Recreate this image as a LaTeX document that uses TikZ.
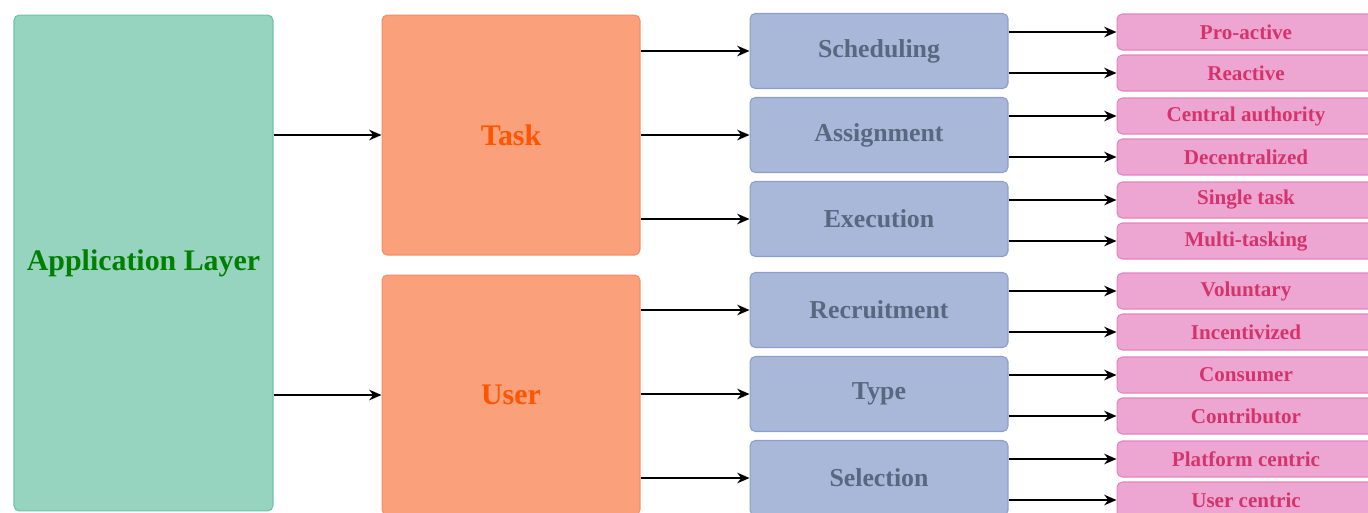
\documentclass[tikz,border=0pt]{standalone}
\usepackage{fontspec}
\setmainfont{Liberation Serif}
\usetikzlibrary{arrows.meta}

\definecolor{appfill}{RGB}{150,212,192}
\definecolor{appdraw}{RGB}{108,196,164}
\definecolor{apptext}{RGB}{0,128,0}
\definecolor{catfill}{RGB}{250,160,123}
\definecolor{catdraw}{RGB}{246,140,100}
\definecolor{cattext}{RGB}{255,85,0}
\definecolor{subfill}{RGB}{169,183,217}
\definecolor{subdraw}{RGB}{138,159,204}
\definecolor{subtext}{RGB}{90,103,128}
\definecolor{optfill}{RGB}{237,166,210}
\definecolor{optdraw}{RGB}{229,130,192}
\definecolor{opttext}{RGB}{214,51,108}

\begin{document}
\begin{tikzpicture}[
    x=0.02cm, y=-0.02cm,
    appbox/.style={draw=appdraw, fill=appfill, rounded corners=3pt, line width=0.6pt,
        minimum width=5.18cm, minimum height=9.92cm, text=apptext,
        font=\bfseries\fontsize{17}{20}\selectfont},
    catbox/.style={draw=catdraw, fill=catfill, rounded corners=3pt, line width=0.6pt,
        minimum width=5.16cm, minimum height=4.8cm, text=cattext,
        font=\bfseries\fontsize{17}{20}\selectfont},
    subbox/.style={draw=subdraw, fill=subfill, rounded corners=3pt, line width=0.6pt,
        minimum width=5.16cm, minimum height=1.5cm, text=subtext,
        font=\bfseries\fontsize{14.7}{17}\selectfont},
    optbox/.style={draw=optdraw, fill=optfill, rounded corners=3pt, line width=0.6pt,
        minimum width=5.16cm, minimum height=0.72cm, text=opttext,
        font=\bfseries\fontsize{12}{14}\selectfont},
    conn/.style={-{Stealth[length=7pt,width=6pt]}, line width=1pt, black},
]

\useasboundingbox (0,0) rectangle (1368,512);
\clip (0,0) rectangle (1368,512);

% Layer
\node[appbox] (app) at (143.5, 263) {Application Layer};

% Categories
\node[catbox] (task) at (511, 135) {Task};
\node[catbox] (user) at (511, 395) {User};

% Task aspects
\node[subbox] (sched)  at (879, 51)  {Scheduling};
\node[subbox] (assign) at (879, 135) {Assignment};
\node[subbox] (exec)   at (879, 219) {Execution};

% User aspects
\node[subbox] (recruit) at (879, 310) {Recruitment};
\node[subbox] (type)    at (879, 394) {Type};
\node[subbox] (select)  at (879, 478) {Selection};

% Options
\node[optbox] (proact)  at (1246, 32)  {Pro-active};
\node[optbox] (react)   at (1246, 73)  {Reactive};
\node[optbox] (central) at (1246, 116) {Central authority};
\node[optbox] (decent)  at (1246, 157) {Decentralized};
\node[optbox] (single)  at (1246, 200) {Single task};
\node[optbox] (multi)   at (1246, 241) {Multi-tasking};
\node[optbox] (volun)   at (1246, 291) {Voluntary};
\node[optbox] (incent)  at (1246, 332) {Incentivized};
\node[optbox] (consum)  at (1246, 375) {Consumer};
\node[optbox] (contrib) at (1246, 416) {Contributor};
\node[optbox] (platf)   at (1246, 459) {Platform centric};
\node[optbox] (ucent)   at (1246, 500) {User centric};

% Layer -> categories
\draw[conn] (app.east |- task) -- (task.west);
\draw[conn] (app.east |- user) -- (user.west);

% Categories -> aspects
\draw[conn] (task.east |- sched)   -- (sched.west);
\draw[conn] (task.east |- assign)  -- (assign.west);
\draw[conn] (task.east |- exec)    -- (exec.west);
\draw[conn] (user.east |- recruit) -- (recruit.west);
\draw[conn] (user.east |- type)    -- (type.west);
\draw[conn] (user.east |- select)  -- (select.west);

% Aspects -> options
\draw[conn] (sched.east |- proact)    -- (proact.west);
\draw[conn] (sched.east |- react)     -- (react.west);
\draw[conn] (assign.east |- central)  -- (central.west);
\draw[conn] (assign.east |- decent)   -- (decent.west);
\draw[conn] (exec.east |- single)     -- (single.west);
\draw[conn] (exec.east |- multi)      -- (multi.west);
\draw[conn] (recruit.east |- volun)   -- (volun.west);
\draw[conn] (recruit.east |- incent)  -- (incent.west);
\draw[conn] (type.east |- consum)     -- (consum.west);
\draw[conn] (type.east |- contrib)    -- (contrib.west);
\draw[conn] (select.east |- platf)    -- (platf.west);
\draw[conn] (select.east |- ucent)    -- (ucent.west);

\end{tikzpicture}
\end{document}
